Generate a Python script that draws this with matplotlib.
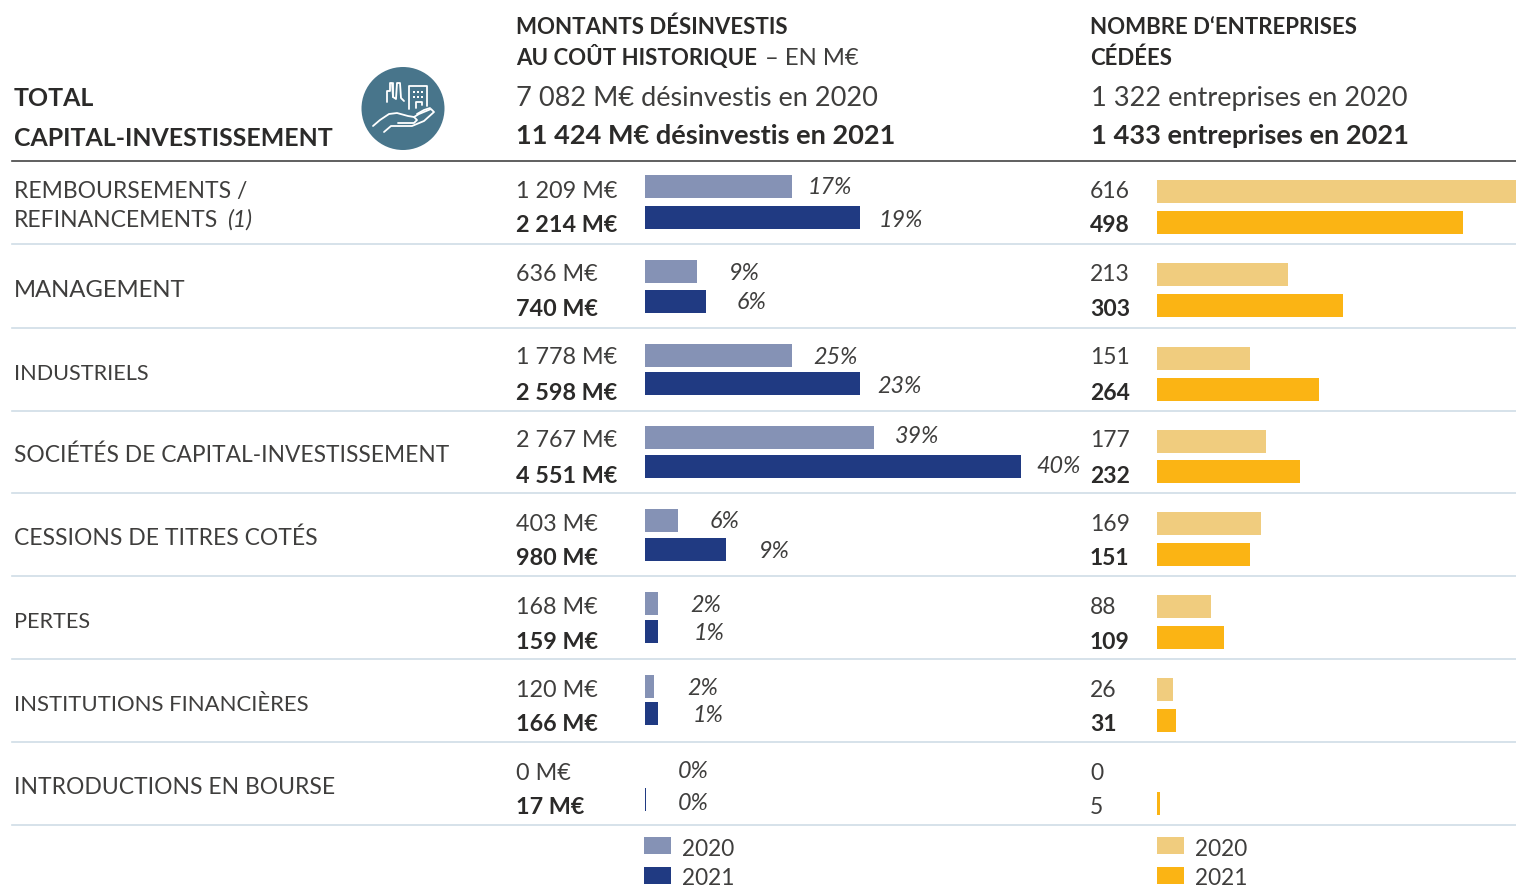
import matplotlib
matplotlib.use('Agg')
import matplotlib.pyplot as plt
from matplotlib.patches import Circle, Rectangle

plt.rcParams['font.family'] = ['Lato', 'DejaVu Sans']

categories = ['REMBOURSEMENTS /\nREFINANCEMENTS', 'MANAGEMENT', 'INDUSTRIELS',
              'SOCIÉTÉS DE CAPITAL-INVESTISSEMENT', 'CESSIONS DE TITRES COTÉS',
              'PERTES', 'INSTITUTIONS FINANCIÈRES', 'INTRODUCTIONS EN BOURSE']

montants_2020 = [1209, 636, 1778, 2767, 403, 168, 120, 0]
montants_2021 = [2214, 740, 2598, 4551, 980, 159, 166, 17]
# dans l'original les barres de la 1ere ligne ont la longueur de celles de INDUSTRIELS
barres_2020 = [1778, 636, 1778, 2767, 403, 168, 120, 0]
barres_2021 = [2598, 740, 2598, 4551, 980, 159, 166, 17]
pct_2020 = [17, 9, 25, 39, 6, 2, 2, 0]
pct_2021 = [19, 6, 23, 40, 9, 1, 1, 0]
entreprises_2020 = [616, 213, 151, 177, 169, 88, 26, 0]
entreprises_2021 = [498, 303, 264, 232, 151, 109, 31, 5]

# mise en page, en pixels
W, H = 1516, 887
bar_h = 23
label_y = [0, 297, 380, 462, 545, 628, 711, 794]
label_size = [16.5, 17.2, 15.6, 16.4, 16.5, 15.6, 15.9, 16.5]
val_y_2020 = [198, 281, 364, 447, 531, 614, 697, 780]
val_y_2021 = [232, 316, 400, 483, 565, 649, 731, 814]
left_y_2020 = [186.5, 271.5, 355.5, 437.5, 520.5, 603.5, 686.5, 770]
left_y_2021 = [217.5, 301.5, 383.5, 466.5, 549.5, 631.5, 714, 799.5]
right_y_2020 = [191.5, 274.5, 358.5, 441.5, 523.5, 606.5, 689.5, 772.5]
right_y_2021 = [222.5, 305.5, 389.5, 471.5, 554.5, 637.5, 720.5, 803.5]
pct_x_2020 = [808, 729, 813, 895, 710, 690, 687, 678]
pct_x_2021 = [879, 737, 877, 1036, 759, 694, 693, 678]
pct_y_2020 = [188, 274, 358, 437, 522, 606, 689, 772]
pct_y_2021 = [221, 303, 387, 467, 552, 634, 716, 804]
rules = [244.7, 328.7, 411.7, 494.2, 577.2, 660.2, 742.7, 825.7]

DARK = '#2b2a29'
LIGHT_TXT = '#3f3e3d'
BLUE_20, BLUE_21 = '#8592b5', '#203a82'
GOLD_20, GOLD_21 = '#f0cc7e', '#fbb414'
TEAL = '#48758b'
RULE = '#cfdde6'


def fmt(v):
    return f'{v:,}'.replace(',', ' ')


fig = plt.figure(figsize=(W / 100, H / 100), dpi=100)
ax = fig.add_axes([0, 0, 1, 1])
ax.set_xlim(0, W)
ax.set_ylim(H, 0)
ax.axis('off')


def txt(x, y, s, size=16.4, bold=False, italic=False, va='baseline'):
    ax.text(x, y, s, fontsize=size, fontweight='bold' if bold else 'normal',
            fontstyle='italic' if italic else 'normal',
            color=DARK if bold else LIGHT_TXT, va=va, ha='left')


# axes des barres : x en valeur, y en pixels
left = fig.add_axes([644.5 / W, 0, 455 / W, 1])
left.set_xlim(0, 455 / 0.0828)
left.set_ylim(H - 0.7, -0.7)
left.axis('off')
left.barh(left_y_2020, barres_2020, height=bar_h, color=BLUE_20)
left.barh(left_y_2021, barres_2021, height=bar_h, color=BLUE_21)

right = fig.add_axes([1157 / W, 0, 359 / W, 1])
right.set_xlim(0, 359 / 0.615)
right.set_ylim(H - 0.7, -0.7)
right.axis('off')
right.barh(right_y_2020, entreprises_2020, height=bar_h, color=GOLD_20)
right.barh(right_y_2021, entreprises_2021, height=bar_h, color=GOLD_21)

# en-tetes
txt(14, 106, 'TOTAL', 17.9, True)
txt(14, 146, 'CAPITAL-INVESTISSEMENT', 17.9, True)
txt(516, 34, 'MONTANTS DÉSINVESTIS', 16, True)
txt(516, 65, 'AU COÛT HISTORIQUE', 16, True)
txt(765, 65, '– EN M€', 17.2)
txt(516, 106, '7 082 M€ désinvestis en 2020', 19.5)
txt(516, 144, '11 424 M€ désinvestis en 2021', 19.5, True)
txt(1090, 34, 'NOMBRE D‘ENTREPRISES', 16, True)
txt(1090, 65, 'CÉDÉES', 16, True)
txt(1091, 106, '1 322 entreprises en 2020', 19.6)
txt(1091, 144, '1 433 entreprises en 2021', 19.6, True)

ax.plot([12, W], [161.7, 161.7], color='#444444', lw=1.2)
for y in rules:
    ax.plot([12, W], [y, y], color=RULE, lw=1.2)

# lignes
txt(14, 198, 'REMBOURSEMENTS /', label_size[0])
txt(14, 227, 'REFINANCEMENTS', label_size[0])
txt(227, 227, '(1)', label_size[0], italic=True)
for i in range(1, len(categories)):
    txt(14, label_y[i], categories[i], label_size[i])

for i in range(len(categories)):
    txt(516, val_y_2020[i], fmt(montants_2020[i]) + ' M€', 16.8)
    txt(516, val_y_2021[i], fmt(montants_2021[i]) + ' M€', 16.8, True)
    txt(pct_x_2020[i], pct_y_2020[i], f'{pct_2020[i]}%', 16.8, italic=True, va='center')
    txt(pct_x_2021[i], pct_y_2021[i], f'{pct_2021[i]}%', 16.8, italic=True, va='center')
    txt(1090, val_y_2020[i], str(entreprises_2020[i]), 16.5)
    txt(1090, val_y_2021[i], str(entreprises_2021[i]), 16.5, entreprises_2021[i] != 5)

# legendes
for x0, c20, c21 in [(644, BLUE_20, BLUE_21), (1157, GOLD_20, GOLD_21)]:
    ax.add_patch(Rectangle((x0, 838), 27, 17, color=c20, lw=0))
    ax.add_patch(Rectangle((x0, 868), 27, 17, color=c21, lw=0))
    txt(x0 + 38, 856, '2020', 16.3)
    txt(x0 + 38, 885, '2021', 16.3)

# pictogramme
ax.add_patch(Circle((403, 109.5), 41.5, color=TEAL, lw=0))


def trait(xs, ys):
    ax.plot(xs, ys, color='white', lw=1.3, solid_capstyle='round', solid_joinstyle='round')


trait([387, 387, 390, 390, 392, 393, 396, 397, 400, 401, 404], [103, 92, 92, 84, 84, 98, 100, 84, 84, 99, 102])
trait([393, 393], [84, 98])
trait([409, 409, 427, 427], [110, 87, 87, 107])
for wy in (92, 97):
    for wx in (413, 417, 421):
        ax.add_patch(Rectangle((wx, wy), 2.4, 2.4, color='white', lw=0))
trait([416, 416, 422, 422], [109, 103, 103, 106])
trait([373, 380, 389, 397, 408, 414, 417, 414, 398], [127, 121, 115, 114, 117, 118, 121, 124, 124])
trait([384, 391, 398, 412, 424, 434, 431, 419, 414], [133, 127, 127, 127, 122, 113, 110, 115, 118])
trait([417, 424, 430], [115, 111, 109])

fig.savefig('out.png', dpi=100)
